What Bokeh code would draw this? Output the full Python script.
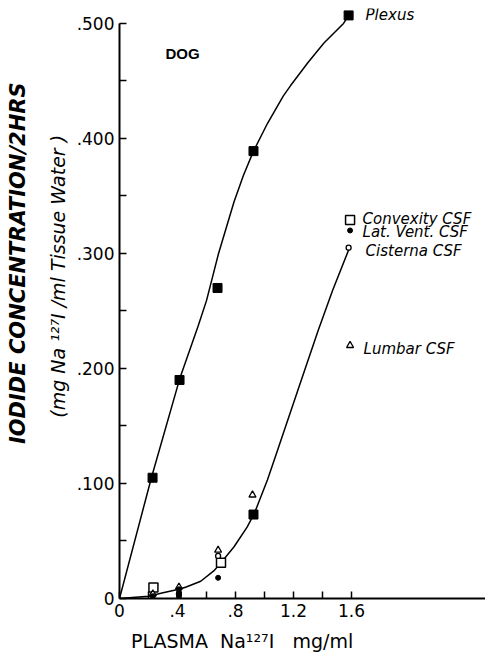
import math
from bokeh.plotting import figure
from bokeh.models import FixedTicker, Label, Range1d, LinearAxis
from bokeh.embed import file_html
from bokeh.resources import INLINE

# ---- data ----
plexus_x = [0.228, 0.414, 0.676, 0.924, 1.58]
plexus_y = [0.105, 0.190, 0.270, 0.389, 0.507]

plexus_curve_x = [0.0, 0.22, 0.415, 0.54, 0.60, 0.683, 0.79, 0.855, 0.924, 1.02, 1.13, 1.18, 1.30, 1.41, 1.545, 1.58]
plexus_curve_y = [0.0, 0.105, 0.191, 0.236, 0.259, 0.300, 0.345, 0.368, 0.389, 0.413, 0.437, 0.446, 0.466, 0.483, 0.500, 0.507]

convexity_x = [0.234, 0.70, 1.59]
convexity_y = [0.0096, 0.031, 0.329]

latvent_x = [0.23, 0.41, 0.41, 0.41, 0.68, 1.59]
latvent_y = [0.002, 0.002, 0.005, 0.008, 0.018, 0.320]

cisterna_x = [0.41, 0.68, 1.58]
cisterna_y = [0.004, 0.037, 0.305]

lumbar_x = [0.23, 0.41, 0.68, 0.917, 1.59]
lumbar_y = [0.004, 0.010, 0.042, 0.090, 0.220]

coincident_x = [0.924]
coincident_y = [0.073]

csf_curve_x = [0.0, 0.2, 0.3, 0.41, 0.46, 0.56, 0.65, 0.70, 0.79, 0.88, 0.93, 1.02, 1.09, 1.23, 1.37, 1.47, 1.58]
csf_curve_y = [0.0, 0.002, 0.005, 0.008, 0.010, 0.015, 0.024, 0.031, 0.045, 0.062, 0.074, 0.103, 0.129, 0.181, 0.233, 0.268, 0.303]

x_ticks = [0.0, 0.4, 0.8, 1.2, 1.6]
x_tick_labels = ["0", ".4", ".8", "1.2", "1.6"]
x_minor = [0.2, 0.6, 1.0, 1.4]
y_ticks = [0.0, 0.1, 0.2, 0.3, 0.4, 0.5]
y_tick_labels = ["0", ".100", ".200", ".300", ".400", ".500"]
y_minor = [0.05, 0.15, 0.25, 0.35, 0.45]

NB = "\u00a0"
x_title = "PLASMA" + NB * 2 + "Na\u00b9\u00b2\u2077I" + NB * 3 + "mg/ml" + NB * 20
y_title = NB * 11 + "IODIDE CONCENTRATION/2HRS"
y_subtitle = NB * 9 + "(mg Na \u00b9\u00b2\u2077I /ml Tissue Water )"

FONT = "DejaVu Sans"

p = figure(width=485, height=655, output_backend="svg", toolbar_location=None,
           x_range=Range1d(0, 2.524), y_range=Range1d(0, 0.513),
           min_border_left=119, min_border_right=0, min_border_top=8, min_border_bottom=57)
p.outline_line_color = None
p.xgrid.visible = False
p.ygrid.visible = False
p.background_fill_color = "white"

for ax, ticks, minors, labels in ((p.xaxis[0], x_ticks, x_minor, x_tick_labels),
                                  (p.yaxis[0], y_ticks, y_minor, y_tick_labels)):
    ax.ticker = FixedTicker(ticks=ticks, minor_ticks=minors)
    ax.major_label_overrides = {t: l for t, l in zip(ticks, labels)}
    ax.axis_line_width = 2
    ax.axis_line_color = "black"
    ax.major_tick_line_width = 1.5
    ax.minor_tick_line_width = 1.5
    ax.major_tick_line_color = "black"
    ax.minor_tick_line_color = "black"
    ax.major_tick_out = 0
    ax.minor_tick_out = 0
    ax.major_tick_in = 7
    ax.minor_tick_in = 7
    ax.major_label_text_font = FONT
    ax.major_label_text_font_size = "17px"
    ax.major_label_text_color = "black"
    ax.major_label_standoff = 5

p.yaxis.bounds = (0, 0.5)


def title_axis(label, size, style, standoff):
    ax = LinearAxis(ticker=FixedTicker(ticks=[]), axis_label=label,
                    axis_line_color=None, major_tick_line_color=None, minor_tick_line_color=None,
                    major_tick_out=0, minor_tick_out=0, major_tick_in=0, minor_tick_in=0,
                    major_label_standoff=0,
                    axis_label_text_font=FONT, axis_label_text_font_size=size,
                    axis_label_text_font_style=style, axis_label_text_color="black",
                    axis_label_standoff=standoff)
    return ax

p.add_layout(title_axis(y_subtitle, "19px", "italic", 5), "left")
p.add_layout(title_axis(y_title, "21px", "bold italic", 14), "left")
p.add_layout(title_axis(x_title, "19px", "normal", 10), "below")

# curves
p.line(plexus_curve_x, plexus_curve_y, line_color="black", line_width=1.5)
p.line(csf_curve_x, csf_curve_y, line_color="black", line_width=1.5)

# markers
p.scatter(plexus_x, plexus_y, marker="square", size=9, fill_color="black", line_color="black")
p.scatter(coincident_x, coincident_y, marker="square", size=9, fill_color="black", line_color="black")
p.scatter(convexity_x, convexity_y, marker="square", size=9, fill_color="white", line_color="black", line_width=1.5)
p.scatter(lumbar_x, lumbar_y, marker="triangle", size=7, fill_color="white", line_color="black", line_width=1.3)
p.scatter(cisterna_x, cisterna_y, marker="circle", size=5, fill_color="white", line_color="black", line_width=1.3)
p.scatter(latvent_x, latvent_y, marker="circle", size=5, fill_color="black", line_color="black")


def lab(x, y, text, size="15px", style="italic", font=FONT):
    p.add_layout(Label(x=x, y=y, text=text, text_font=font, text_font_size=size,
                       text_font_style=style, text_align="left", text_baseline="middle",
                       text_color="black"))

lab(1.697, 0.507, "Plexus")
lab(1.676, 0.330, "Convexity CSF")
lab(1.676, 0.319, "Lat. Vent. CSF")
lab(1.697, 0.302, "Cisterna CSF")
lab(1.683, 0.217, "Lumbar CSF")
lab(0.317, 0.474, "DOG", size="15px", style="bold", font="Liberation Sans")

open("out.html", "w").write(file_html(p, INLINE))
